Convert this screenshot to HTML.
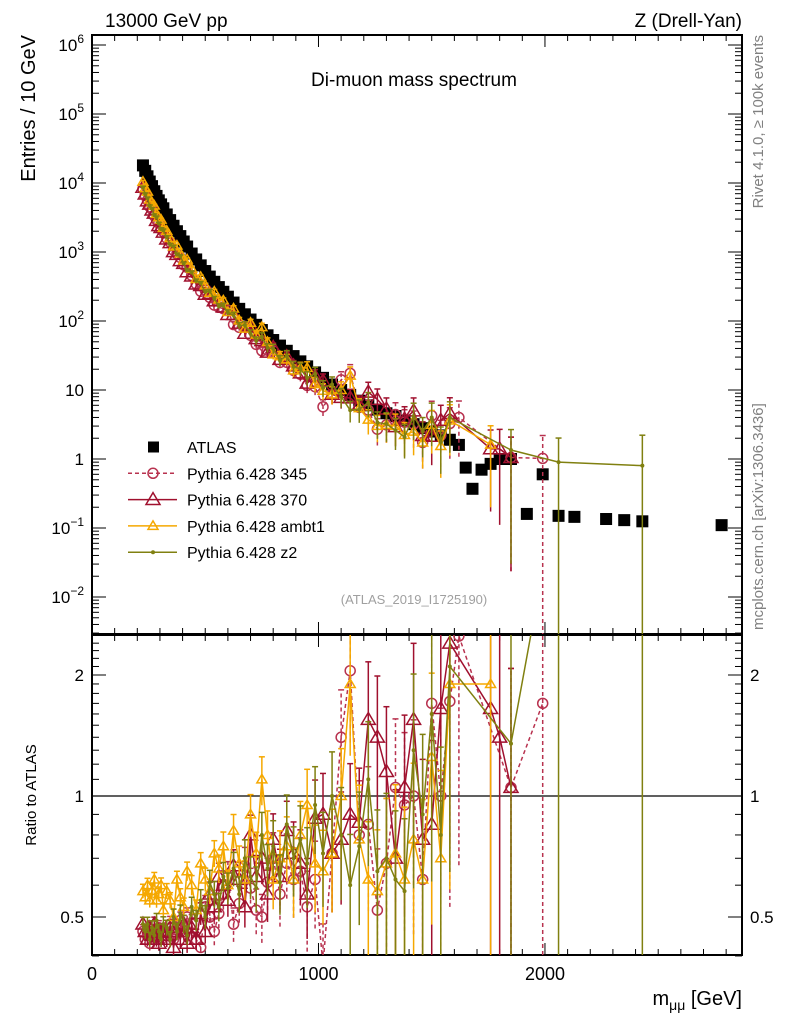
<!DOCTYPE html>
<html><head><meta charset="utf-8"><style>
html,body{margin:0;padding:0;background:#fff;overflow:hidden;width:786px;height:1024px;}
svg{display:block;font-family:"Liberation Sans",sans-serif;}
</style></head><body>
<svg id="chart" width="786" height="1024" viewBox="0 0 786 1024" xmlns="http://www.w3.org/2000/svg">
<defs>
<clipPath id="clipMain"><rect x="92" y="35" width="650" height="599"/></clipPath>
<clipPath id="clipRatio"><rect x="92" y="635" width="650" height="320"/></clipPath>
</defs>
<text x="105" y="27" font-size="19">13000 GeV pp</text>
<text x="742" y="27" font-size="19" text-anchor="end">Z (Drell-Yan)</text>
<text x="414" y="86" font-size="19" text-anchor="middle">Di-muon mass spectrum</text>
<text transform="translate(35,35) rotate(-90)" font-size="20" text-anchor="end" x="0" y="0">Entries / 10 GeV</text>
<text transform="translate(36,795) rotate(-90)" font-size="15" text-anchor="middle">Ratio to ATLAS</text>
<text x="742" y="1005" font-size="20" text-anchor="end">m<tspan font-size="14" dy="5">μμ</tspan><tspan dy="-5"> [GeV]</tspan></text>
<text transform="translate(763,35) rotate(-90)" font-size="15" fill="#808080" text-anchor="end">Rivet 4.1.0, ≥ 100k events</text>
<text transform="translate(763,630) rotate(-90)" font-size="15" fill="#808080">mcplots.cern.ch [arXiv:1306.3436]</text>
<text x="414" y="604" font-size="13" fill="#a0a0a0" text-anchor="middle">(ATLAS_2019_I1725190)</text>
<g id="axes"></g>
<g id="mainMarks" clip-path="url(#clipMain)"></g>
<g id="ratioMarks" clip-path="url(#clipRatio)"></g>
<g id="legend"></g>
</svg>
<script>
const masses=[225,235,245,255,265,275,285,295,305,315,330,345,360,375,390,405,420,440,460,480,500,520,540,560,580,600,625,650,675,700,725,750,775,800,830,860,890,920,950,985,1020,1060,1100,1140,1180,1220,1260,1300,1340,1380,1420,1460,1500,1540,1580,1620,1650,1680,1720,1760,1800,1850,1920,1990,2060,2130,2270,2350,2430,2780];
const atlasValues=[18000,15000,12500,10500,9000,7600,6500,5600,4900,4300,3500,2900,2400,2000,1700,1420,1200,950,780,640,530,440,370,310,265,225,185,150,125,105,88,74,62,53,44,37,31,26,22,18,15,12,10,8.5,7,6,5.2,4.6,4.2,3.6,3.2,2.8,2.5,2.2,1.9,1.6,0.75,0.37,0.7,0.85,1.0,1.0,0.16,0.6,0.15,0.145,0.135,0.13,0.125,0.11];
const ratio345=[0.46,0.44,0.45,0.43,0.46,0.44,0.45,0.47,0.44,0.46,0.45,0.48,0.44,0.47,0.49,0.46,0.50,0.48,0.44,0.42,0.53,0.50,0.46,0.51,0.57,0.63,0.48,0.54,0.67,0.59,0.52,0.50,0.61,0.70,0.57,0.68,0.62,0.65,0.53,0.62,0.38,0.72,1.40,2.05,0.80,0.85,0.52,0.68,1.05,0.95,1.00,0.62,1.70,1.00,1.72,2.5,null,null,null,null,null,1.05,null,1.70,null,null,null,null,null,null];
const ratio370=[0.48,0.46,0.44,0.47,0.45,0.48,0.44,0.43,0.46,0.45,0.44,0.47,0.42,0.46,0.44,0.48,0.43,0.47,0.44,0.51,0.46,0.57,0.53,0.63,0.60,0.55,0.67,0.62,0.53,0.80,0.63,0.70,0.57,0.78,0.63,0.82,0.72,0.68,0.57,0.88,0.90,0.72,0.78,0.90,0.86,1.55,1.40,1.15,0.70,1.05,1.55,0.78,0.85,1.65,2.4,null,null,null,null,1.65,1.40,1.05,null,null,null,null,null,null,null,null];
const ratioAmbt1=[0.58,0.56,0.60,0.55,0.58,0.62,0.55,0.57,0.60,0.52,0.58,0.55,0.50,0.62,0.56,0.53,0.65,0.60,0.52,0.68,0.62,0.58,0.72,0.66,0.75,0.60,0.82,0.68,0.62,0.90,0.72,1.10,0.80,0.62,0.70,0.75,0.62,0.80,0.95,0.68,0.65,0.72,1.00,1.90,0.78,0.62,0.58,0.68,0.72,0.62,0.78,0.62,1.25,0.70,1.9,null,null,null,null,1.9,null,null,null,null,null,null,null,null,null,null];
const ratioZ2=[0.48,0.46,0.48,0.44,0.47,0.45,0.49,0.46,0.44,0.48,0.47,0.44,0.50,0.46,0.51,0.48,0.45,0.53,0.49,0.55,0.50,0.61,0.57,0.53,0.63,0.59,0.66,0.57,0.70,0.63,0.59,0.80,0.66,0.75,0.61,0.85,0.70,0.78,0.68,0.95,0.72,1.00,0.80,0.60,0.75,1.10,0.65,0.70,0.62,0.58,1.30,0.90,1.60,0.80,2.1,null,null,null,null,null,null,1.35,null,null,6.0,null,null,null,6.4,null];
const xTickLabels=["0","1000","2000"];
const yTickLabels=["10^-2","10^-1","1","10","10^2","10^3","10^4","10^5","10^6"];
const ratioTickLabels=["0.5","1","2"];

const NS="http://www.w3.org/2000/svg";
const X0=92,X1=742,MT=35,MB=634,RT=635,RB=955;
const xs=m=>X0+(m-0)*(X1-X0)/2870;
const ys=v=>459-69*Math.log10(v);
const yr=r=>796-121*Math.log2(r);
function el(tag,attrs,parent){const e=document.createElementNS(NS,tag);for(const k in attrs)e.setAttribute(k,attrs[k]);parent.appendChild(e);return e;}
const axes=document.getElementById('axes'),mainG=document.getElementById('mainMarks'),ratioG=document.getElementById('ratioMarks'),leg=document.getElementById('legend');
function relErr(m){const t=(m-225)/1300;return 0.04+0.6*t*t;}

let f=el('rect',{x:X0,y:MT,width:X1-X0,height:MB-MT,fill:'none',stroke:'#000','stroke-width':2},axes);

f=el('rect',{x:X0,y:RT,width:X1-X0,height:RB-RT,fill:'none',stroke:'#000','stroke-width':2},axes);

for(let m=0;m<=2800;m+=100){const maj=m%1000===0;const L=maj?12:6;const x=xs(m);
 el('line',{x1:x,x2:x,y1:MB,y2:MB-L,stroke:'#000'},axes);el('line',{x1:x,x2:x,y1:MT,y2:MT+L,stroke:'#000'},axes);
 el('line',{x1:x,x2:x,y1:RB,y2:RB-L,stroke:'#000'},axes);el('line',{x1:x,x2:x,y1:RT,y2:RT+L,stroke:'#000'},axes);}
xTickLabels.forEach((t,i)=>{const tx=el('text',{x:xs(i*1000),y:980,'font-size':18,'text-anchor':'middle'},axes);tx.textContent=t;
 });
for(let e=-3;e<=6;e++){for(let k=1;k<10;k++){const v=k*Math.pow(10,e);const y=ys(v);if(y<MT||y>MB)continue;const L=k===1?14:7;
 el('line',{x1:X0,x2:X0+L,y1:y,y2:y,stroke:'#000'},axes);el('line',{x1:X1,x2:X1-L,y1:y,y2:y,stroke:'#000'},axes);}}
yTickLabels.forEach((t,i)=>{const e=i-2;const y=ys(Math.pow(10,e))+6;const tx=el('text',{x:84,y:y,'font-size':17,'text-anchor':'end'},axes);
 
 if(t.indexOf('^')>=0){const p=t.split('^');tx.appendChild(document.createTextNode(p[0]));const s=el('tspan',{dy:-8,'font-size':12},tx);s.textContent=p[1].replace('-','−');}else tx.textContent=t;});
for(let r=0.4;r<=2.5;r+=0.1){const y=yr(r);const maj=Math.abs(r-0.5)<1e-6||Math.abs(r-1)<1e-6||Math.abs(r-2)<1e-6;const L=maj?14:7;
 el('line',{x1:X0,x2:X0+L,y1:y,y2:y,stroke:'#000'},axes);el('line',{x1:X1,x2:X1-L,y1:y,y2:y,stroke:'#000'},axes);}
ratioTickLabels.forEach(t=>{const y=yr(parseFloat(t))+6;let tx=el('text',{x:84,y:y,'font-size':17,'text-anchor':'end'},axes);tx.textContent=t;
 
 tx=el('text',{x:750,y:y,'font-size':17},axes);tx.textContent=t;});
let ul=el('line',{x1:X0,x2:X1,y1:yr(1),y2:yr(1),stroke:'#000','stroke-width':1.3},axes);


atlasValues.forEach((v,i)=>{const x=xs(masses[i]),y=ys(v);const r=el('rect',{x:x-6,y:y-6,width:12,height:12,fill:'#000'},mainG);
 });

const series=[
 {name:'345',ratios:ratio345,color:'#b8324f',dash:'4,3',marker:'circle',size:5},
 {name:'370',ratios:ratio370,color:'#a0102e',dash:'',marker:'tri',size:7},
 {name:'ambt1',ratios:ratioAmbt1,color:'#f5a800',dash:'',marker:'tri',size:5},
 {name:'z2',ratios:ratioZ2,color:'#808010',dash:'',marker:'dot',size:2}];
function marker(g,s,x,y){let m;
 if(s.marker==='circle')m=el('circle',{cx:x,cy:y,r:s.size,fill:'none',stroke:s.color,'stroke-width':1.5},g);
 else if(s.marker==='tri'){const a=s.size;m=el('polygon',{points:`${x},${y-a} ${x-a},${y+a*0.7} ${x+a},${y+a*0.7}`,fill:'none',stroke:s.color,'stroke-width':1.5},g);}
 else m=el('circle',{cx:x,cy:y,r:s.size,fill:s.color},g);
 return m;}
series.forEach(s=>{
 const gm=el('g',{},mainG);
 const gr=el('g',{},ratioG);
 let pm=[],pr=[];
 s.ratios.forEach((r,i)=>{if(r===null)return;const m=masses[i];const v=r*atlasValues[i];const x=xs(m);
  pm.push([x,ys(v)]);pr.push([x,yr(r)]);
  const e=relErr(m);
  const lo=Math.max(v*(1-e),1e-4),hi=v*(1+e);
  el('line',{x1:x,x2:x,y1:ys(lo),y2:ys(hi),stroke:s.color,'stroke-width':1.5,'stroke-dasharray':s.dash},gm);
  el('line',{x1:x-3,x2:x+3,y1:ys(hi),y2:ys(hi),stroke:s.color,'stroke-width':1.5},gm);
  const rlo=Math.max(r*(1-e),0.05),rhi=r*(1+e);
  el('line',{x1:x,x2:x,y1:yr(rlo),y2:yr(rhi),stroke:s.color,'stroke-width':1.5,'stroke-dasharray':s.dash},gr);
  el('line',{x1:x-3,x2:x+3,y1:yr(rhi),y2:yr(rhi),stroke:s.color,'stroke-width':1.5},gr);
 });
 const d1='M'+pm.map(p=>p.join(',')).join('L'),d2='M'+pr.map(p=>p.join(',')).join('L');
 el('path',{d:d1,fill:'none',stroke:s.color,'stroke-width':1.5,'stroke-dasharray':s.dash},gm);
 el('path',{d:d2,fill:'none',stroke:s.color,'stroke-width':1.5,'stroke-dasharray':s.dash},gr);
 pm.forEach(p=>marker(gm,s,p[0],p[1]));pr.forEach(p=>marker(gr,s,p[0],p[1]));
});

const legendLabels=['ATLAS','Pythia 6.428 345','Pythia 6.428 370','Pythia 6.428 ambt1','Pythia 6.428 z2'];
legendLabels.forEach((t,i)=>{const y=447+i*26.3;const g=el('g',{},leg);
 
 if(i===0)el('rect',{x:148,y:y-5.5,width:11,height:11,fill:'#000'},g);
 else{const s=series[i-1];el('line',{x1:128,x2:177,y1:y,y2:y,stroke:s.color,'stroke-width':1.5,'stroke-dasharray':s.dash},g);marker(g,s,153,y);}
 const tx=el('text',{x:187,y:y+6,'font-size':16},g);tx.textContent=t;});
</script>
</body></html>
